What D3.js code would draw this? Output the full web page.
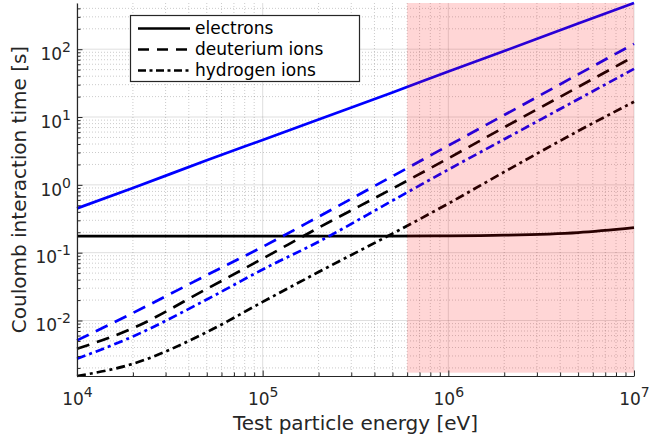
<!DOCTYPE html>
<html>
<head>
<meta charset="utf-8">
<script src="https://cdn.jsdelivr.net/npm/d3@7"></script>
<style>
  html, body { margin: 0; padding: 0; background: #fff; }
  svg { display: block; font-family: "DejaVu Sans", sans-serif; }
</style>
</head>
<body>
<svg id="chart" width="650" height="439"></svg>
<script>
// Test particle energy [eV]
const energy = [1e4, 2e4, 5e4, 1e5, 2e5, 5e5, 1e6, 2e6, 5e6, 1e7];

// Coulomb interaction time [s] for each test particle, two plasma cases (blue / black)
const electronsBlue   = [0.45, 0.90, 2.3, 4.6, 9.2, 23, 47, 94, 240, 480];
const electronsBlack  = [0.176, 0.176, 0.176, 0.176, 0.176, 0.176, 0.177, 0.181, 0.198, 0.234];
const deuteriumBlue   = [5.1e-3, 1.29e-2, 4.67e-2, 0.122, 0.339, 1.34, 3.79, 10.7, 42.5, 120];
const deuteriumBlack  = [3.83e-3, 7.7e-3, 2.93e-2, 8.18e-2, 0.233, 0.879, 2.46, 7.05, 27.7, 78];
const hydrogenBlue    = [2.73e-3, 5.82e-3, 2.04e-2, 5.65e-2, 0.145, 0.585, 1.68, 4.70, 18.3, 51.2];
const hydrogenBlack   = [1.52e-3, 2.30e-3, 6.74e-3, 1.88e-2, 5.19e-2, 0.191, 0.53, 1.55, 6.21, 16.8];

const legendLabels = ["electrons", "deuterium ions", "hydrogen ions"];
const xTickExponents = [4, 5, 6, 7];
const yTickExponents = [-2, -1, 0, 1, 2];

// Shaded energy band and the lower time bound of the shading
const highlightEnergy = [6e5, 1e7];
const highlightTimeFloor = 1.7e-3;

const xLabel = "Test particle energy [eV]";
const yLabel = "Coulomb interaction time [s]";

// ---- styling ----
const blue = "#0000ff", black = "#000000", axisColor = "#262626";
const dashStyles = { solid: null, dashed: "13,8", dashdot: "9,4,3,4" };
const lineWidth = 2.7;

const series = [
  { values: electronsBlue,  color: blue,  dash: dashStyles.solid },
  { values: electronsBlack, color: black, dash: dashStyles.solid },
  { values: deuteriumBlue,  color: blue,  dash: dashStyles.dashed },
  { values: deuteriumBlack, color: black, dash: dashStyles.dashed },
  { values: hydrogenBlue,   color: blue,  dash: dashStyles.dashdot },
  { values: hydrogenBlack,  color: black, dash: dashStyles.dashdot }
];
const legendStyles = [dashStyles.solid, "11,8", "8,3.5,3,3.5"];

const plot = { left: 77, right: 634, top: 3, bottom: 376 };

const svg = d3.select("#chart");

const x = d3.scaleLog()
  .domain(d3.extent(energy))
  .range([plot.left, plot.right]);

const allValues = series.flatMap(s => s.values);
const y = d3.scaleLog()
  .domain(d3.extent(allValues))
  .range([plot.bottom, plot.top]);

// decade and sub-decade positions inside a log domain
function logTicks(domain) {
  const lo = Math.floor(Math.log10(domain[0])), hi = Math.ceil(Math.log10(domain[1]));
  const major = [], minor = [];
  for (let e = lo; e <= hi; e++) {
    const p = Math.pow(10, e);
    if (p >= domain[0] * 0.9999 && p <= domain[1] * 1.0001) major.push(p);
    for (let k = 2; k <= 9; k++) {
      const v = k * p;
      if (v >= domain[0] && v <= domain[1]) minor.push(v);
    }
  }
  return { major, minor };
}
const xt = logTicks(x.domain());
const yt = logTicks(y.domain());
const xMajor = xTickExponents.map(e => Math.pow(10, e));
const yMajor = yTickExponents.map(e => Math.pow(10, e));

// ---- grid ----
const grid = svg.append("g").attr("class", "grid");
grid.selectAll(".vminor").data(xt.minor).join("line")
  .attr("x1", d => x(d)).attr("x2", d => x(d))
  .attr("y1", plot.top).attr("y2", plot.bottom)
  .attr("stroke", axisColor).attr("stroke-opacity", 0.3)
  .attr("stroke-width", 0.8).attr("stroke-dasharray", "1,2");
grid.selectAll(".hminor").data(yt.minor).join("line")
  .attr("y1", d => y(d)).attr("y2", d => y(d))
  .attr("x1", plot.left).attr("x2", plot.right)
  .attr("stroke", axisColor).attr("stroke-opacity", 0.3)
  .attr("stroke-width", 0.8).attr("stroke-dasharray", "1,2");
grid.selectAll(".vmajor").data(xMajor).join("line")
  .attr("x1", d => x(d)).attr("x2", d => x(d))
  .attr("y1", plot.top).attr("y2", plot.bottom)
  .attr("stroke", axisColor).attr("stroke-opacity", 0.15).attr("stroke-width", 1);
grid.selectAll(".hmajor").data(yMajor).join("line")
  .attr("y1", d => y(d)).attr("y2", d => y(d))
  .attr("x1", plot.left).attr("x2", plot.right)
  .attr("stroke", axisColor).attr("stroke-opacity", 0.15).attr("stroke-width", 1);

// ---- curves ----
const line = d3.line()
  .x((d, i) => x(energy[i]))
  .y(d => y(d))
  .curve(d3.curveMonotoneX);

svg.append("g").attr("class", "curves")
  .selectAll("path").data(series).join("path")
  .attr("d", s => line(s.values))
  .attr("fill", "none")
  .attr("stroke", s => s.color)
  .attr("stroke-width", lineWidth)
  .attr("stroke-dasharray", s => s.dash);

// ---- translucent band over the high-energy range ----
svg.append("rect")
  .attr("x", x(highlightEnergy[0]))
  .attr("width", x(highlightEnergy[1]) - x(highlightEnergy[0]))
  .attr("y", y(y.domain()[1]))
  .attr("height", y(highlightTimeFloor) - y(y.domain()[1]))
  .attr("fill", "#ff0000")
  .attr("fill-opacity", 0.16);

// ---- axes ----
function superscriptLabels(sel) {
  sel.selectAll(".tick text").each(function (d) {
    const t = d3.select(this);
    t.text(null);
    t.append("tspan").text("10");
    t.append("tspan").attr("dy", -8).attr("font-size", 14)
      .text(String(Math.round(Math.log10(d))));
  });
}

// minor ticks
svg.append("g").attr("transform", `translate(0,${plot.bottom})`)
  .call(d3.axisBottom(x).tickValues(xt.minor).tickSize(-3.5).tickSizeOuter(0).tickFormat(""))
  .call(g => g.select(".domain").remove())
  .call(g => g.selectAll("line").attr("stroke", axisColor));
svg.append("g").attr("transform", `translate(${plot.left},0)`)
  .call(d3.axisLeft(y).tickValues(yt.minor).tickSize(-3.5).tickSizeOuter(0).tickFormat(""))
  .call(g => g.select(".domain").remove())
  .call(g => g.selectAll("line").attr("stroke", axisColor));

// major ticks with labels
const gx = svg.append("g").attr("transform", `translate(0,${plot.bottom})`)
  .call(d3.axisBottom(x).tickValues(xMajor).tickSize(-5.5).tickSizeOuter(0));
gx.select(".domain").attr("stroke", axisColor).attr("stroke-width", 1.2);
gx.selectAll("line").attr("stroke", axisColor);
gx.selectAll("text").attr("y", 29).attr("dy", null)
  .attr("font-size", 17).attr("fill", axisColor)
  .attr("font-family", "DejaVu Sans, sans-serif");
superscriptLabels(gx);

const gy = svg.append("g").attr("transform", `translate(${plot.left},0)`)
  .call(d3.axisLeft(y).tickValues(yMajor).tickSize(-5.5).tickSizeOuter(0).tickPadding(6));
gy.select(".domain").attr("stroke", axisColor).attr("stroke-width", 1.2);
gy.selectAll("line").attr("stroke", axisColor);
gy.selectAll("text").attr("dy", 10.3)
  .attr("font-size", 17).attr("fill", axisColor)
  .attr("font-family", "DejaVu Sans, sans-serif");
superscriptLabels(gy);

// axis titles
svg.append("text")
  .attr("x", (plot.left + plot.right) / 2).attr("y", 430)
  .attr("text-anchor", "middle").attr("font-size", 20).attr("fill", axisColor)
  .text(xLabel);
svg.append("text")
  .attr("transform", `translate(26,${(plot.top + plot.bottom) / 2}) rotate(-90)`)
  .attr("text-anchor", "middle").attr("font-size", 20).attr("fill", axisColor)
  .text(yLabel);

// ---- legend ----
const legend = svg.append("g").attr("class", "legend");
legend.append("rect")
  .attr("x", 130.5).attr("y", 15.5).attr("width", 229).attr("height", 66)
  .attr("fill", "#fff").attr("stroke", axisColor).attr("stroke-width", 1.2);
const rows = legend.selectAll(".row").data(legendLabels).join("g")
  .attr("transform", (d, i) => `translate(0,${28.5 + i * 21})`);
rows.append("line")
  .attr("x1", 138).attr("x2", 190).attr("y1", 0).attr("y2", 0)
  .attr("stroke", black).attr("stroke-width", lineWidth)
  .attr("stroke-dasharray", (d, i) => legendStyles[i]);
rows.append("text")
  .attr("x", 195).attr("dy", "0.33em")
  .attr("font-size", 17).attr("fill", "#000")
  .text(d => d);
</script>
</body>
</html>
